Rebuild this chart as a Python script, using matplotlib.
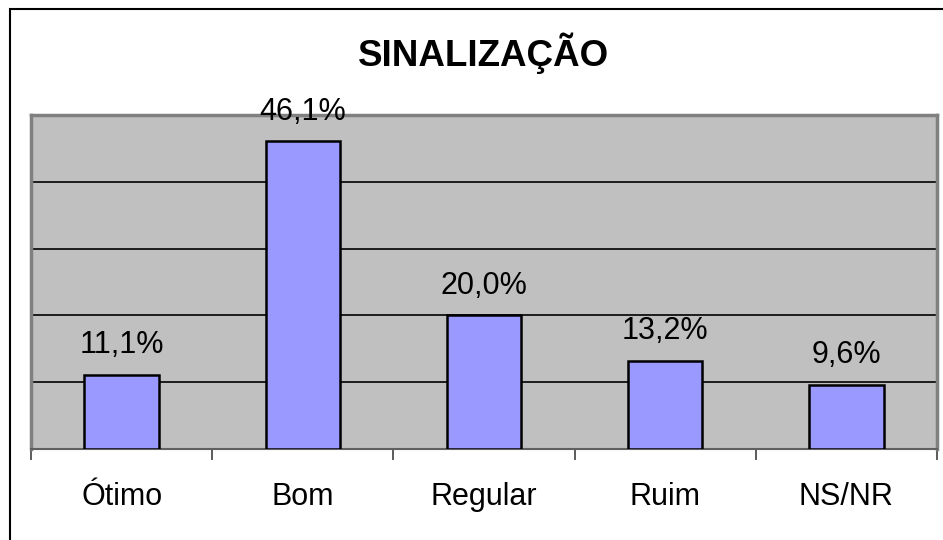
import matplotlib.pyplot as plt
import matplotlib.patches as mpatches
import numpy as np

# data
categories = ['Ótimo', 'Bom', 'Regular', 'Ruim', 'NS/NR']
values = [11.1, 46.1, 20.0, 13.2, 9.6]
value_labels = ['11,1%', '46,1%', '20,0%', '13,2%', '9,6%']

plt.rcParams['font.family'] = ['Liberation Sans', 'DejaVu Sans']

fig = plt.figure(figsize=(9.43, 5.4), dpi=100)
ax = fig.add_axes([31 / 943, 1 - 449 / 540, 906 / 943, 334 / 540])
ax.set_facecolor('#C0C0C0')

x = np.arange(len(categories))
bars = ax.bar(x, values, width=0.41, color='#9999FF', edgecolor='black', linewidth=1.8, zorder=3)

for xi, v, lab in zip(x, values, value_labels):
    ax.annotate(lab, (xi, v), xytext=(0, 15.5), textcoords='offset points',
                ha='center', va='baseline', fontsize=22, zorder=4)

ax.set_xlim(-0.5, len(categories) - 0.5)
ax.set_ylim(0, 50)
ax.set_yticks([10, 20, 30, 40])
ax.yaxis.grid(True, color='black', linewidth=1.2, zorder=1)
ax.tick_params(axis='y', length=0, labelleft=False)

ax.set_xticks(x)
ax.set_xticklabels(categories, fontsize=22)
ax.set_xticks(np.arange(-0.5, len(categories)), minor=True)
ax.tick_params(axis='x', which='major', length=0, pad=24)
ax.tick_params(axis='x', which='minor', length=8, width=1.2, color='#404040')

for side in ['left', 'top', 'right']:
    ax.spines[side].set_color('#808080')
    ax.spines[side].set_linewidth(2.5)
ax.spines['bottom'].set_color('#606060')
ax.spines['bottom'].set_linewidth(1.5)

fig.text((31 + 937) / 2 / 943, 1 - 53 / 540, 'SINALIZAÇÃO', ha='center', va='center',
         fontsize=26.5, fontweight='bold')

# outer chart border, only left and top fall inside the picture
border = mpatches.Rectangle((10 / 943, -0.1), 1.2, 1 - 9 / 540 + 0.1, transform=fig.transFigure,
                            fill=False, edgecolor='black', linewidth=1.5)
fig.patches.append(border)

fig.savefig('out.png', dpi=100)
